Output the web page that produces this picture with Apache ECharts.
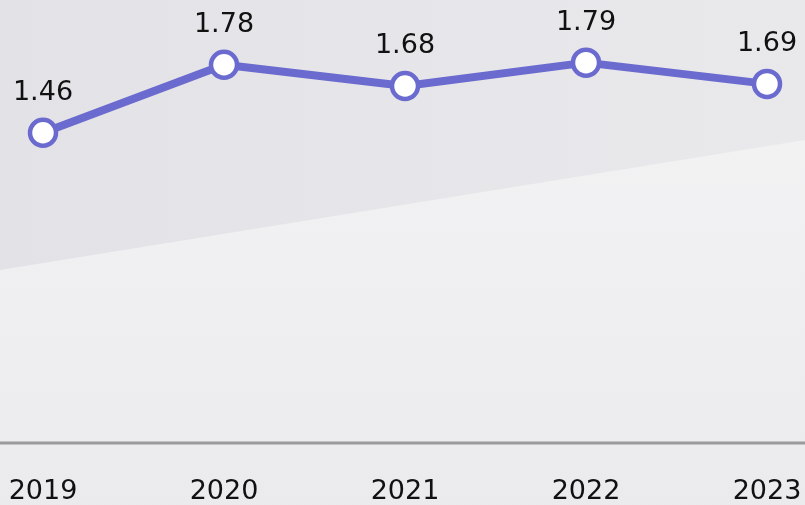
<!DOCTYPE html>
<html><head><meta charset="utf-8">
<script src="https://cdn.jsdelivr.net/npm/echarts@6/dist/echarts.min.js"></script>
<style>html,body{margin:0;padding:0;}#c{width:805px;height:505px;}</style>
</head><body><div id="c"></div>
<script>
const categories = ['2019','2020','2021','2022','2023'];
const values = [1.46, 1.78, 1.68, 1.79, 1.69];

const chart = echarts.init(document.getElementById('c'));
chart.setOption({
  backgroundColor: {type:'linear', x:0, y:0, x2:1, y2:0, colorStops:[{offset:0,color:'#e3e3e7'},{offset:1,color:'#e9e9ec'}]},
  graphic: [
    {type:'polygon', z:-10, silent:true, shape:{points:[[0,270],[805,140],[805,505],[0,505]]},
     style:{fill:{type:'linear',x:0,y:0,x2:0,y2:1,colorStops:[{offset:0,color:'#f2f2f3'},{offset:1,color:'#ebebee'}]}}},
    {type:'line', z:5, silent:true, shape:{x1:0,y1:443,x2:805,y2:443}, style:{stroke:'#9a9a9a', lineWidth:3}}
  ],
  grid: {left:43, right:38, top:18, bottom:62},
  xAxis: {
    type:'category', data: categories, boundaryGap:false,
    axisLine:{show:false}, axisTick:{show:false},
    axisLabel:{color:'#111', fontSize:27, fontFamily:'DejaVu Sans', margin:35}
  },
  yAxis: {type:'value', min:0, max:2, show:false, splitLine:{show:false}},
  series: [{
    type:'line', data: values,
    symbol:'circle', symbolSize:26,
    lineStyle:{color:'#6b6bcf', width:8},
    itemStyle:{color:'#ffffff', borderColor:'#6b6bcf', borderWidth:4.5},
    label:{show:true, position:'top', distance:11, color:'#111', fontSize:27, fontFamily:'DejaVu Sans'}
  }]
});
</script></body></html>
